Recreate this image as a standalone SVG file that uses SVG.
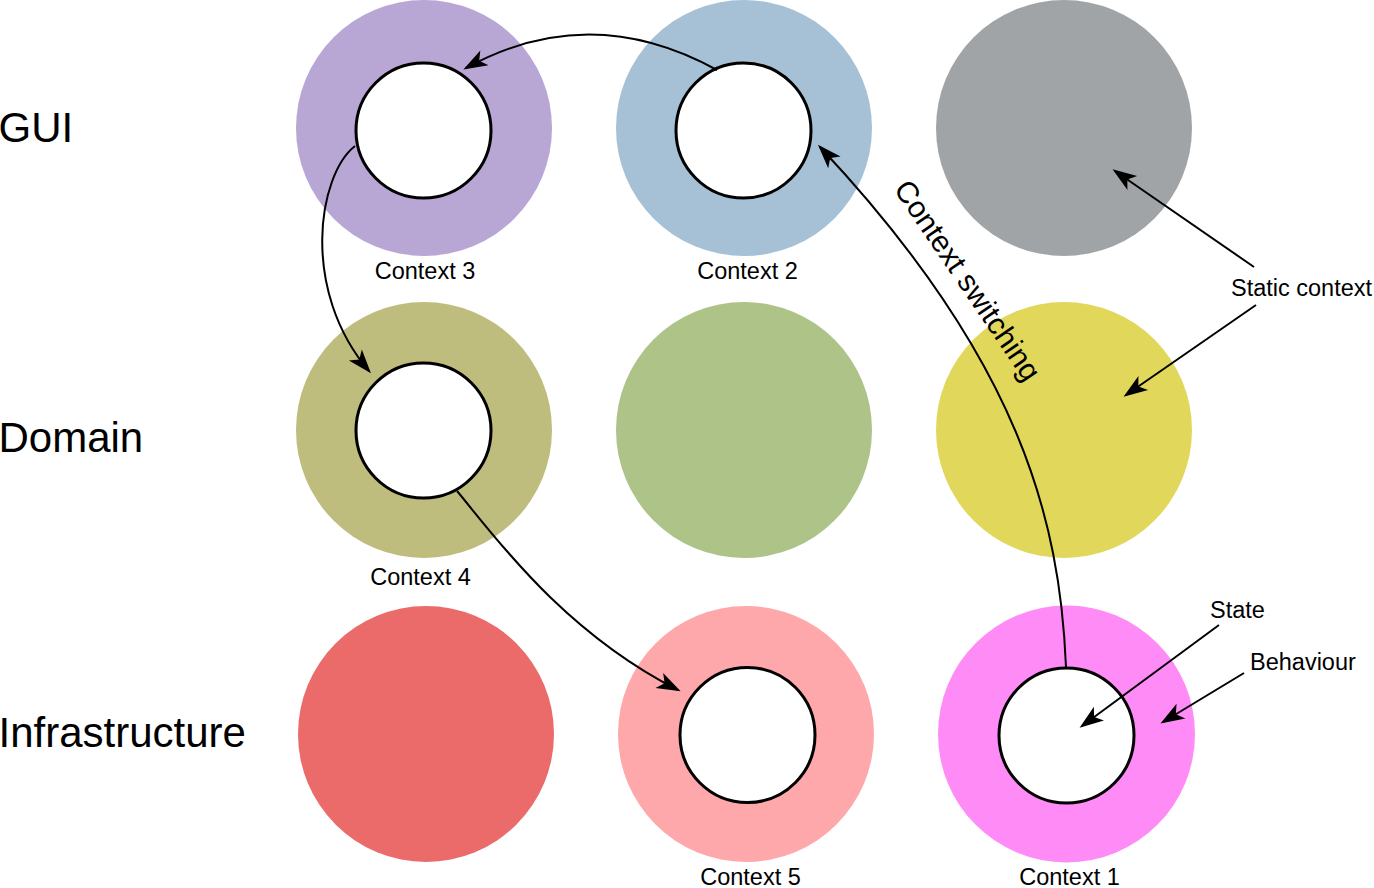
<svg xmlns="http://www.w3.org/2000/svg" width="1374" height="888" viewBox="0 0 1374 888">
<style>
.lbl{font-family:"Liberation Sans",Arial,sans-serif;fill:#000}
.row{font-size:42px}
.small{font-size:23.5px}
.inner{fill:#fff;stroke:#000;stroke-width:3}
.conn{fill:none;stroke:#000;stroke-width:2}
</style>
<defs>
<marker id="arr" markerUnits="userSpaceOnUse" markerWidth="40" markerHeight="40" viewBox="-30 -15 40 30" refX="0" refY="0" orient="auto" overflow="visible">
<path d="M3,0 L-21,-8.5 L-15,0 L-21,8.5 Z" fill="#000"/>
</marker>
</defs>
<rect width="1374" height="888" fill="#fff"/>
<g id="row-labels">
<text class="lbl row" x="-1.5" y="142">GUI</text>
<text class="lbl row" x="-1.5" y="452">Domain</text>
<text class="lbl row" x="-1.5" y="747">Infrastructure</text>
</g>
<g id="context3">
<circle cx="424" cy="128" r="128" fill="#B8A7D4"/>
<circle class="inner" cx="423.5" cy="130.5" r="67.5"/>
<text class="lbl small" x="425" y="279" text-anchor="middle">Context 3</text>
</g>
<g id="context2">
<circle cx="744" cy="128" r="128" fill="#A6C1D6"/>
<circle class="inner" cx="743.5" cy="130.5" r="67.5"/>
<text class="lbl small" x="747.5" y="279" text-anchor="middle">Context 2</text>
</g>
<g id="gui-static">
<circle cx="1064" cy="128" r="128" fill="#A0A4A7"/>
</g>
<g id="context4">
<circle cx="424" cy="430" r="128" fill="#BEBD7D"/>
<circle class="inner" cx="423.5" cy="430.5" r="67.5"/>
<text class="lbl small" x="420.5" y="585" text-anchor="middle">Context 4</text>
</g>
<g id="domain-middle">
<circle cx="744" cy="430" r="128" fill="#ADC387"/>
</g>
<g id="domain-static">
<circle cx="1064" cy="430" r="128" fill="#E0D75B"/>
</g>
<g id="infra-left">
<circle cx="426" cy="734" r="128" fill="#EB6B6B"/>
</g>
<g id="context5">
<circle cx="746" cy="734" r="128" fill="#FEA8AB"/>
<circle class="inner" cx="747.5" cy="735" r="67.5"/>
<text class="lbl small" x="750.5" y="885" text-anchor="middle">Context 5</text>
</g>
<g id="context1">
<circle cx="1066.5" cy="734" r="128.5" fill="#FF8BF6"/>
<circle class="inner" cx="1066.5" cy="735.5" r="67.5"/>
<text class="lbl small" x="1069.5" y="885" text-anchor="middle">Context 1</text>
</g>
<g id="annotations">
<text class="lbl small" x="1231" y="296">Static context</text>
<text class="lbl small" x="1210" y="618">State</text>
<text class="lbl small" x="1250" y="670">Behaviour</text>
<text class="lbl" font-size="30" transform="translate(893,189) rotate(55.7)">Context switching</text>
</g>
<g id="connectors">
<path class="conn" d="M717,70 Q590,0 466,68" marker-end="url(#arr)"/>
<path class="conn" d="M355,146 C318,175 300,290 369,371" marker-end="url(#arr)"/>
<path class="conn" d="M457,491 C490,530 560,630 678,690" marker-end="url(#arr)"/>
<path class="conn" d="M1066,667 C1060,520 1020,360 820,147" marker-end="url(#arr)"/>
<path class="conn" d="M1254,267 L1115,171" marker-end="url(#arr)"/>
<path class="conn" d="M1256,305 L1126,395" marker-end="url(#arr)"/>
<path class="conn" d="M1219,625 L1082,726" marker-end="url(#arr)"/>
<path class="conn" d="M1244,673 L1163,722" marker-end="url(#arr)"/>
</g>
</svg>
